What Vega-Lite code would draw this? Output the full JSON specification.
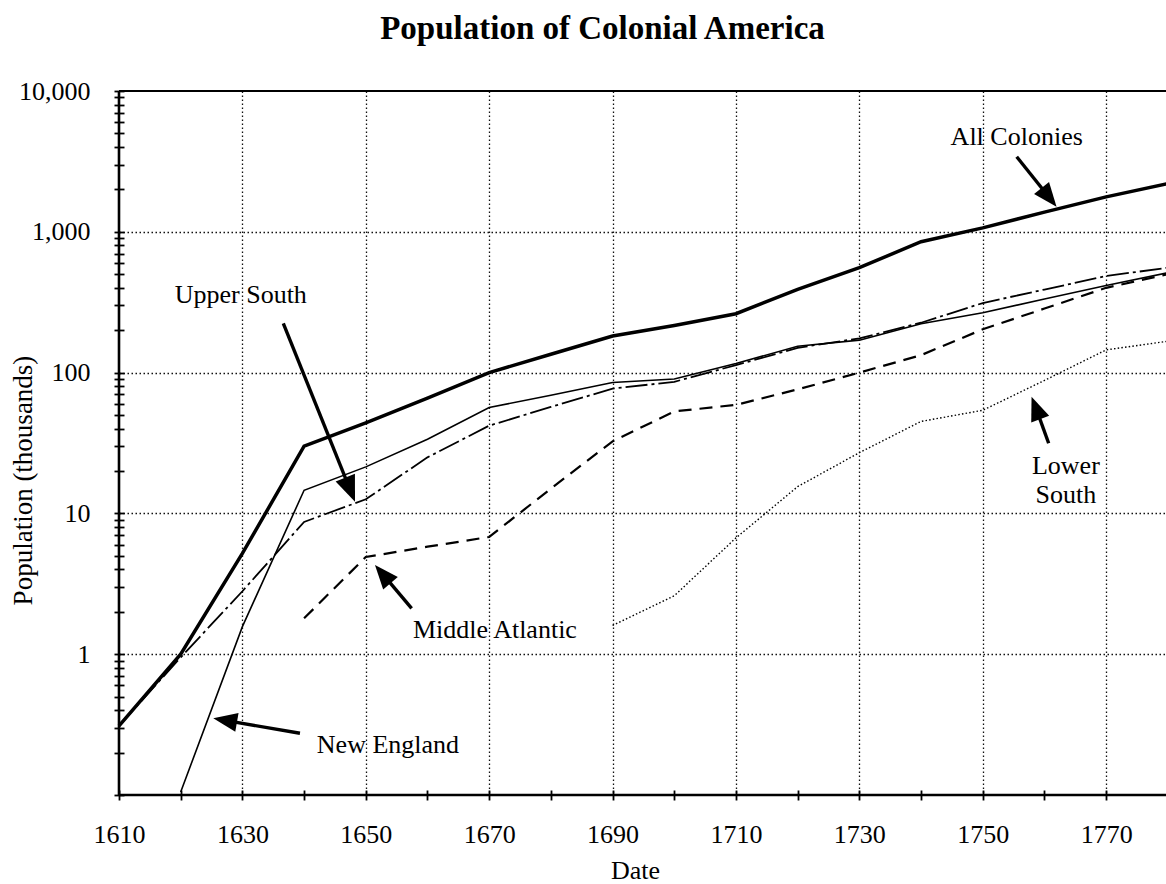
{
  "$schema": "https://vega.github.io/schema/vega-lite/v6.json",
  "width": 1047,
  "height": 704,
  "autosize": {"type": "none"},
  "padding": {"left": 119, "top": 91, "right": 0, "bottom": 89},
  "background": "white",
  "config": {"view": {"stroke": null}, "font": "Liberation Serif"},
  "title": {
    "text": "Population of Colonial America",
    "font": "Liberation Serif",
    "fontSize": 33,
    "fontWeight": "bold",
    "color": "black",
    "anchor": "middle",
    "frame": "group",
    "offset": 32,
    "dx": -40
  },
  "datasets": {
    "series": [
      {"series": "All Colonies", "year": 1610, "value": 0.31},
      {"series": "All Colonies", "year": 1620, "value": 1.0},
      {"series": "All Colonies", "year": 1630, "value": 5.2},
      {"series": "All Colonies", "year": 1640, "value": 30},
      {"series": "All Colonies", "year": 1650, "value": 44},
      {"series": "All Colonies", "year": 1660, "value": 66},
      {"series": "All Colonies", "year": 1670, "value": 100},
      {"series": "All Colonies", "year": 1680, "value": 135},
      {"series": "All Colonies", "year": 1690, "value": 182},
      {"series": "All Colonies", "year": 1700, "value": 216},
      {"series": "All Colonies", "year": 1710, "value": 262},
      {"series": "All Colonies", "year": 1720, "value": 390},
      {"series": "All Colonies", "year": 1730, "value": 556},
      {"series": "All Colonies", "year": 1740, "value": 850},
      {"series": "All Colonies", "year": 1750, "value": 1067},
      {"series": "All Colonies", "year": 1760, "value": 1380},
      {"series": "All Colonies", "year": 1770, "value": 1770},
      {"series": "All Colonies", "year": 1780, "value": 2200},
      {"series": "New England", "year": 1620, "value": 0.105},
      {"series": "New England", "year": 1630, "value": 1.57},
      {"series": "New England", "year": 1640, "value": 14.6},
      {"series": "New England", "year": 1650, "value": 21.4},
      {"series": "New England", "year": 1660, "value": 33.6},
      {"series": "New England", "year": 1670, "value": 56.5},
      {"series": "New England", "year": 1680, "value": 69},
      {"series": "New England", "year": 1690, "value": 85},
      {"series": "New England", "year": 1700, "value": 90},
      {"series": "New England", "year": 1710, "value": 116},
      {"series": "New England", "year": 1720, "value": 154},
      {"series": "New England", "year": 1730, "value": 170},
      {"series": "New England", "year": 1740, "value": 222},
      {"series": "New England", "year": 1750, "value": 266},
      {"series": "New England", "year": 1760, "value": 333},
      {"series": "New England", "year": 1770, "value": 416},
      {"series": "New England", "year": 1780, "value": 512},
      {"series": "Upper South", "year": 1610, "value": 0.31},
      {"series": "Upper South", "year": 1620, "value": 0.95},
      {"series": "Upper South", "year": 1630, "value": 2.8},
      {"series": "Upper South", "year": 1640, "value": 8.7},
      {"series": "Upper South", "year": 1650, "value": 12.6},
      {"series": "Upper South", "year": 1660, "value": 25},
      {"series": "Upper South", "year": 1670, "value": 42},
      {"series": "Upper South", "year": 1680, "value": 57},
      {"series": "Upper South", "year": 1690, "value": 77},
      {"series": "Upper South", "year": 1700, "value": 86},
      {"series": "Upper South", "year": 1710, "value": 113},
      {"series": "Upper South", "year": 1720, "value": 150},
      {"series": "Upper South", "year": 1730, "value": 175},
      {"series": "Upper South", "year": 1740, "value": 226},
      {"series": "Upper South", "year": 1750, "value": 312},
      {"series": "Upper South", "year": 1760, "value": 389},
      {"series": "Upper South", "year": 1770, "value": 485},
      {"series": "Upper South", "year": 1780, "value": 556},
      {"series": "Middle Atlantic", "year": 1640, "value": 1.8},
      {"series": "Middle Atlantic", "year": 1650, "value": 4.9},
      {"series": "Middle Atlantic", "year": 1660, "value": 5.8},
      {"series": "Middle Atlantic", "year": 1670, "value": 6.8},
      {"series": "Middle Atlantic", "year": 1680, "value": 15},
      {"series": "Middle Atlantic", "year": 1690, "value": 32.5},
      {"series": "Middle Atlantic", "year": 1700, "value": 53},
      {"series": "Middle Atlantic", "year": 1710, "value": 59},
      {"series": "Middle Atlantic", "year": 1720, "value": 76},
      {"series": "Middle Atlantic", "year": 1730, "value": 100},
      {"series": "Middle Atlantic", "year": 1740, "value": 133},
      {"series": "Middle Atlantic", "year": 1750, "value": 203},
      {"series": "Middle Atlantic", "year": 1760, "value": 285},
      {"series": "Middle Atlantic", "year": 1770, "value": 400},
      {"series": "Middle Atlantic", "year": 1780, "value": 500},
      {"series": "Lower South", "year": 1690, "value": 1.6},
      {"series": "Lower South", "year": 1700, "value": 2.6},
      {"series": "Lower South", "year": 1710, "value": 6.7},
      {"series": "Lower South", "year": 1720, "value": 15.5},
      {"series": "Lower South", "year": 1730, "value": 27},
      {"series": "Lower South", "year": 1740, "value": 45},
      {"series": "Lower South", "year": 1750, "value": 54},
      {"series": "Lower South", "year": 1760, "value": 88},
      {"series": "Lower South", "year": 1770, "value": 145},
      {"series": "Lower South", "year": 1780, "value": 167}
    ],
    "labels": [
      {"text": "All Colonies", "year": 1755.5, "value": 4136},
      {"text": "Upper South", "year": 1629.74, "value": 310.6},
      {"text": "Middle Atlantic", "year": 1670.93, "value": 1.303},
      {"text": "New England", "year": 1653.59, "value": 0.2},
      {"text": "Lower", "year": 1763.47, "value": 19.05},
      {"text": "South", "year": 1763.47, "value": 11.86}
    ],
    "arrows": [
      {"name": "All Colonies", "year": 1755.5, "value": 3415, "year2": 1760.75, "value2": 1758, "tipYear": 1761.96, "tipValue": 1508},
      {"name": "Upper South", "year": 1636.63, "value": 223.9, "year2": 1647.52, "value2": 14.52, "tipYear": 1648.25, "tipValue": 12.11},
      {"name": "Middle Atlantic", "year": 1657.43, "value": 2.118, "year2": 1652.75, "value2": 3.7, "tipYear": 1651.49, "tipValue": 4.3},
      {"name": "New England", "year": 1639.33, "value": 0.2743, "year2": 1627.19, "value2": 0.339, "tipYear": 1625.28, "tipValue": 0.3505},
      {"name": "Lower South", "year": 1760.68, "value": 31.47, "year2": 1758.61, "value2": 56.15, "tipYear": 1757.91, "tipValue": 67.4}
    ]
  },
  "layer": [
    {
      "data": {"name": "series"},
      "transform": [{"filter": "datum.series === 'All Colonies'"}],
      "mark": {"type": "line", "color": "black", "strokeWidth": 3.5},
      "encoding": {
        "x": {
          "field": "year",
          "type": "quantitative",
          "scale": {"domain": [1610, 1779.7], "nice": false, "zero": false},
          "axis": {
            "values": [1610, 1620, 1630, 1640, 1650, 1660, 1670, 1680, 1690, 1700, 1710, 1720, 1730, 1740, 1750, 1760, 1770],
            "format": "d",
            "labelExpr": "(datum.value - 1610) % 20 == 0 ? datum.label : ''",
            "domain": false,
            "offset": -5,
            "tickSize": 10,
            "tickWidth": 1.8,
            "tickColor": "black",
            "labelPadding": 21,
            "labelFont": "Liberation Serif",
            "labelFontSize": 26,
            "labelColor": "black",
            "labelOverlap": false,
            "labelFlush": false,
            "grid": true,
            "gridColor": "#111111",
            "gridWidth": 1.3,
            "gridDash": [1.5, 2.5],
            "gridOpacity": {"condition": {"test": "(datum.value - 1610) % 20 == 0 && datum.value > 1610", "value": 1}, "value": 0},
            "title": "Date",
            "titleFont": "Liberation Serif",
            "titleFontSize": 26,
            "titleFontWeight": "normal",
            "titleColor": "black",
            "titleX": 516,
            "titleY": 88,
            "titleBaseline": "alphabetic"
          }
        },
        "y": {
          "field": "value",
          "type": "quantitative",
          "scale": {"type": "log", "domain": [0.1, 10000], "nice": false},
          "axis": {
            "values": [0.1, 0.2, 0.3, 0.4, 0.5, 0.6, 0.7, 0.8, 0.9, 1, 2, 3, 4, 5, 6, 7, 8, 9, 10, 20, 30, 40, 50, 60, 70, 80, 90, 100, 200, 300, 400, 500, 600, 700, 800, 900, 1000, 2000, 3000, 4000, 5000, 6000, 7000, 8000, 9000, 10000],
            "labelExpr": "indexof([1, 10, 100, 1000, 10000], datum.value) >= 0 ? format(datum.value, ',') : ''",
            "domain": false,
            "offset": -5,
            "tickSize": 10,
            "tickWidth": 1.8,
            "tickColor": "black",
            "labelPadding": 24,
            "labelFont": "Liberation Serif",
            "labelFontSize": 26,
            "labelColor": "black",
            "labelOverlap": false,
            "labelFlush": false,
            "grid": true,
            "gridColor": "#111111",
            "gridWidth": 1.3,
            "gridDash": [1.5, 2.5],
            "gridOpacity": {"condition": {"test": "indexof([1, 10, 100, 1000], datum.value) >= 0", "value": 1}, "value": 0},
            "title": "Population (thousands)",
            "titleFont": "Liberation Serif",
            "titleFontSize": 27,
            "titleFontWeight": "normal",
            "titleColor": "black",
            "titleAngle": -90,
            "titleX": -101,
            "titleY": 389,
            "titleAlign": "center",
            "titleBaseline": "middle"
          }
        }
      }
    },
    {
      "data": {"name": "series"},
      "transform": [{"filter": "datum.series === 'New England'"}],
      "mark": {"type": "line", "color": "black", "strokeWidth": 1.6},
      "encoding": {"x": {"field": "year", "type": "quantitative"}, "y": {"field": "value", "type": "quantitative"}}
    },
    {
      "data": {"name": "series"},
      "transform": [{"filter": "datum.series === 'Upper South'"}],
      "mark": {"type": "line", "color": "black", "strokeWidth": 1.8, "strokeDash": [22, 4, 3, 4]},
      "encoding": {"x": {"field": "year", "type": "quantitative"}, "y": {"field": "value", "type": "quantitative"}}
    },
    {
      "data": {"name": "series"},
      "transform": [{"filter": "datum.series === 'Middle Atlantic'"}],
      "mark": {"type": "line", "color": "black", "strokeWidth": 2.2, "strokeDash": [13, 8]},
      "encoding": {"x": {"field": "year", "type": "quantitative"}, "y": {"field": "value", "type": "quantitative"}}
    },
    {
      "data": {"name": "series"},
      "transform": [{"filter": "datum.series === 'Lower South'"}],
      "mark": {"type": "line", "color": "black", "strokeWidth": 1.4, "strokeDash": [1.5, 2.2]},
      "encoding": {"x": {"field": "year", "type": "quantitative"}, "y": {"field": "value", "type": "quantitative"}}
    },
    {
      "data": {"values": [{"k": 1}]},
      "mark": {"type": "rule", "color": "black", "strokeWidth": 2.6},
      "encoding": {"x": {"datum": 1610, "type": "quantitative"}}
    },
    {
      "data": {"values": [{"k": 1}]},
      "mark": {"type": "rule", "color": "black", "strokeWidth": 2.4},
      "encoding": {"y": {"datum": 0.1, "type": "quantitative"}}
    },
    {
      "data": {"values": [{"k": 1}]},
      "mark": {"type": "rule", "color": "black", "strokeWidth": 2.2},
      "encoding": {"y": {"datum": 10000, "type": "quantitative"}}
    },
    {
      "data": {"name": "arrows"},
      "mark": {"type": "rule", "color": "black", "strokeWidth": 3.4},
      "encoding": {
        "x": {"field": "year", "type": "quantitative"},
        "y": {"field": "value", "type": "quantitative"},
        "x2": {"field": "year2"},
        "y2": {"field": "value2"}
      }
    },
    {
      "data": {"name": "arrows"},
      "transform": [{"filter": "datum.name === 'All Colonies'"}],
      "mark": {"type": "point", "shape": "M0,0L0.4,1L-0.4,1Z", "size": 2304, "angle": 141.3, "filled": true, "color": "black", "opacity": 1, "strokeWidth": 0},
      "encoding": {"x": {"field": "tipYear", "type": "quantitative"}, "y": {"field": "tipValue", "type": "quantitative"}}
    },
    {
      "data": {"name": "arrows"},
      "transform": [{"filter": "datum.name === 'Upper South'"}],
      "mark": {"type": "point", "shape": "M0,0L0.4,1L-0.4,1Z", "size": 2704, "angle": 158.1, "filled": true, "color": "black", "opacity": 1, "strokeWidth": 0},
      "encoding": {"x": {"field": "tipYear", "type": "quantitative"}, "y": {"field": "tipValue", "type": "quantitative"}}
    },
    {
      "data": {"name": "arrows"},
      "transform": [{"filter": "datum.name === 'Middle Atlantic'"}],
      "mark": {"type": "point", "shape": "M0,0L0.4,1L-0.4,1Z", "size": 2304, "angle": -40.3, "filled": true, "color": "black", "opacity": 1, "strokeWidth": 0},
      "encoding": {"x": {"field": "tipYear", "type": "quantitative"}, "y": {"field": "tipValue", "type": "quantitative"}}
    },
    {
      "data": {"name": "arrows"},
      "transform": [{"filter": "datum.name === 'New England'"}],
      "mark": {"type": "point", "shape": "M0,0L0.4,1L-0.4,1Z", "size": 2304, "angle": -80.2, "filled": true, "color": "black", "opacity": 1, "strokeWidth": 0},
      "encoding": {"x": {"field": "tipYear", "type": "quantitative"}, "y": {"field": "tipValue", "type": "quantitative"}}
    },
    {
      "data": {"name": "arrows"},
      "transform": [{"filter": "datum.name === 'Lower South'"}],
      "mark": {"type": "point", "shape": "M0,0L0.4,1L-0.4,1Z", "size": 2304, "angle": -21.1, "filled": true, "color": "black", "opacity": 1, "strokeWidth": 0},
      "encoding": {"x": {"field": "tipYear", "type": "quantitative"}, "y": {"field": "tipValue", "type": "quantitative"}}
    },
    {
      "data": {"name": "labels"},
      "mark": {"type": "text", "font": "Liberation Serif", "fontSize": 26, "color": "black", "align": "center", "baseline": "alphabetic"},
      "encoding": {
        "x": {"field": "year", "type": "quantitative"},
        "y": {"field": "value", "type": "quantitative"},
        "text": {"field": "text"}
      }
    }
  ]
}
